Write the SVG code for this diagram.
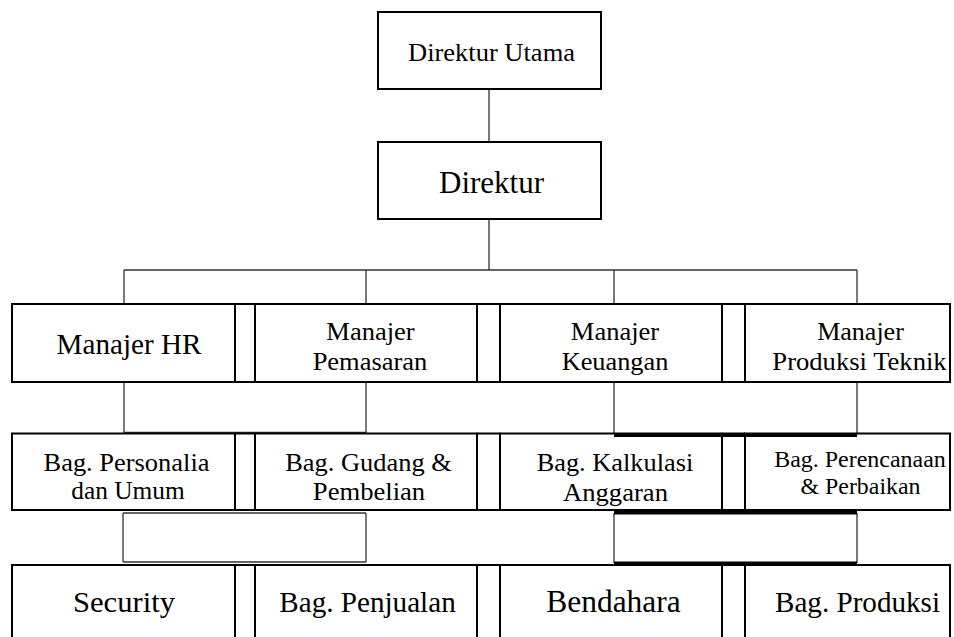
<svg xmlns="http://www.w3.org/2000/svg" width="954" height="637" viewBox="0 0 954 637" font-family="'Liberation Serif', 'DejaVu Serif', 'Noto Serif', serif">
<style>
.box{fill:none;stroke:#000;stroke-width:2}
.c{fill:none;stroke:#333;stroke-width:1.3}
.ct{fill:none;stroke:#000;stroke-width:4}
.t{font-family:'Liberation Serif','DejaVu Serif',serif;fill:#000;text-anchor:middle}
</style>
<rect width="954" height="637" fill="#fff"/>
<g id="connectors">
<path class="c" d="M489 89V142M489 219V270M124 270H857M124 270V304M366 270V304M614 270V304M857 270V304"/>
<path class="c" d="M124 382V433M366 382V433M124 432.5H366"/>
<path class="c" d="M614 382V433M857 382V433"/>
<path class="ct" d="M614 435H857"/>
<path class="c" d="M123 513H366M123 513V562M366 513V562M123 562H366"/>
<path class="c" d="M614 513V563M857 513V563"/>
<path class="ct" d="M614 512.5H857M614 563.5H857"/>
</g>
<g id="gaps">
<path class="box" d="M235 304H255M235 382H255M477 304H500M477 382H500M722 304H745M722 382H745"/>
<path class="box" d="M235 433.5H255M235 510H255M477 433.5H500M477 510H500M722 433.5H745M722 510H745"/>
<path class="box" d="M235 565H255M477 565H500M722 565H745"/>
</g>
<g id="direktur-utama"><rect class="box" x="378" y="12" width="223" height="77"/><text class="t" x="491.5" y="61" font-size="26" textLength="167" lengthAdjust="spacingAndGlyphs">Direktur Utama</text></g>
<g id="direktur"><rect class="box" x="378" y="142" width="223" height="77"/><text class="t" x="491.5" y="192.5" font-size="32" textLength="105" lengthAdjust="spacingAndGlyphs">Direktur</text></g>
<g id="manajer-hr"><rect class="box" x="12" y="304" width="223" height="78"/><text class="t" x="129" y="354" font-size="29" textLength="145" lengthAdjust="spacingAndGlyphs">Manajer HR</text></g>
<g id="manajer-pemasaran"><rect class="box" x="255" y="304" width="222" height="78"/><text class="t" font-size="26"><tspan x="370.5" y="340" textLength="88.3" lengthAdjust="spacingAndGlyphs">Manajer</tspan><tspan x="370" y="370" textLength="114.7" lengthAdjust="spacingAndGlyphs">Pemasaran</tspan></text></g>
<g id="manajer-keuangan"><rect class="box" x="500" y="304" width="222" height="78"/><text class="t" font-size="26"><tspan x="615" y="340" textLength="88.3" lengthAdjust="spacingAndGlyphs">Manajer</tspan><tspan x="615" y="370" textLength="106.7" lengthAdjust="spacingAndGlyphs">Keuangan</tspan></text></g>
<g id="manajer-produksi"><rect class="box" x="745" y="304" width="205" height="78"/><text class="t" font-size="26"><tspan x="860.5" y="340" textLength="86.7" lengthAdjust="spacingAndGlyphs">Manajer</tspan><tspan x="859.5" y="370" textLength="174.3" lengthAdjust="spacingAndGlyphs">Produksi Teknik</tspan></text></g>
<g id="bag-personalia"><rect class="box" x="12" y="433.5" width="223" height="76.5"/><text class="t" font-size="25.6"><tspan x="126.5" y="470.5" textLength="166" lengthAdjust="spacingAndGlyphs">Bag. Personalia</tspan><tspan x="128" y="499" textLength="113.3" lengthAdjust="spacingAndGlyphs">dan Umum</tspan></text></g>
<g id="bag-gudang"><rect class="box" x="255" y="433.5" width="222" height="76.5"/><text class="t" font-size="25.6"><tspan x="368.5" y="470.5" textLength="166.7" lengthAdjust="spacingAndGlyphs">Bag. Gudang &amp;</tspan><tspan x="369" y="500" textLength="112.3" lengthAdjust="spacingAndGlyphs">Pembelian</tspan></text></g>
<g id="bag-kalkulasi"><rect class="box" x="500" y="433.5" width="222" height="76.5"/><text class="t" font-size="25.6"><tspan x="615" y="470.5" textLength="156.7" lengthAdjust="spacingAndGlyphs">Bag. Kalkulasi</tspan><tspan x="615.5" y="500.5" textLength="105" lengthAdjust="spacingAndGlyphs">Anggaran</tspan></text></g>
<g id="bag-perencanaan"><rect class="box" x="745" y="433.5" width="205" height="76.5"/><text class="t" font-size="23.4"><tspan x="860" y="466.5" textLength="171.7" lengthAdjust="spacingAndGlyphs">Bag. Perencanaan</tspan><tspan x="860.5" y="493.5" textLength="120" lengthAdjust="spacingAndGlyphs">&amp; Perbaikan</tspan></text></g>
<g id="security"><path class="box" d="M12 640V565H235V640"/><text class="t" x="124" y="611.5" font-size="30" textLength="102" lengthAdjust="spacingAndGlyphs">Security</text></g>
<g id="bag-penjualan"><path class="box" d="M255 640V565H477V640"/><text class="t" x="367.5" y="611.5" font-size="29.2" textLength="176.5" lengthAdjust="spacingAndGlyphs">Bag. Penjualan</text></g>
<g id="bendahara"><path class="box" d="M500 640V565H722V640"/><text class="t" x="613.5" y="611.5" font-size="30.5" textLength="134.5" lengthAdjust="spacingAndGlyphs">Bendahara</text></g>
<g id="bag-produksi"><path class="box" d="M745 640V565H950V640"/><text class="t" x="857.5" y="611.5" font-size="29.1" textLength="165" lengthAdjust="spacingAndGlyphs">Bag. Produksi</text></g>
</svg>
